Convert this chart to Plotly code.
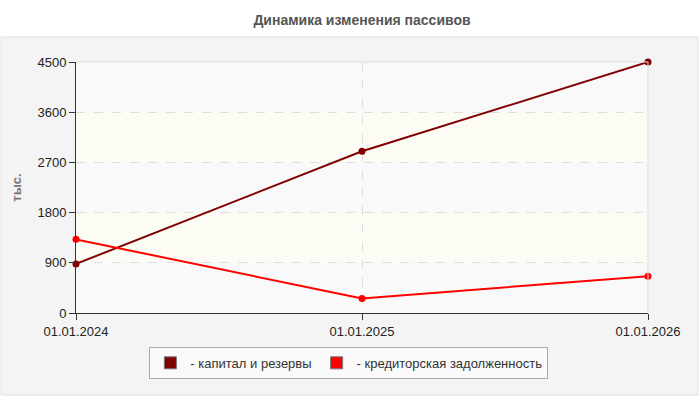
import plotly.graph_objects as go

dates = ["01.01.2024", "01.01.2025", "01.01.2026"]
capital = [880, 2900, 4500]
payables = [1320, 260, 660]
names = ["- капитал и резервы", "- кредиторская задолженность"]
colors = ["#800000", "#ff0000"]
y_ticks = [0, 900, 1800, 2700, 3600, 4500]

fig = go.Figure()
for vals, name, col in [(capital, names[0], colors[0]), (payables, names[1], colors[1])]:
    fig.add_trace(go.Scatter(
        x=dates, y=vals, mode="lines+markers", name=name, cliponaxis=False,
        line=dict(color=col, width=2), marker=dict(color=col, size=7),
        showlegend=False, hoverinfo="x+y"))
for name, col in zip(names, colors):
    fig.add_trace(go.Bar(x=[None], y=[None], name=name,
                         marker=dict(color=col, line=dict(color="#777", width=1)),
                         showlegend=True))

# background panel
fig.add_shape(type="rect", xref="paper", yref="paper",
              x0=-0.131, x1=1.0874, y0=-0.3267, y1=1.0996,
              fillcolor="#f4f4f4", line=dict(color="#e2e2e2", width=1), layer="below")
# alternating bands
for i in range(len(y_ticks) - 1):
    fig.add_shape(type="rect", xref="paper", yref="y",
                  x0=0, x1=1, y0=y_ticks[i], y1=y_ticks[i + 1],
                  fillcolor="#fcfcf4" if i % 2 else "#f9f9f9",
                  line=dict(width=0), layer="below")

fig.update_layout(
    width=700, height=400,
    margin=dict(l=76, r=52, t=62, b=87),
    paper_bgcolor="white", plot_bgcolor="rgba(0,0,0,0)",
    font=dict(family="Liberation Sans, Arial, sans-serif", size=13, color="#222"),
    title=dict(text="<b>Динамика изменения пассивов</b>", x=0.5, xref="paper",
               xanchor="center", y=0.95, yanchor="middle",
               font=dict(size=14, color="#555")),
    barmode="overlay",
    legend=dict(orientation="h", x=0.477, xanchor="center", y=-0.135, yanchor="top",
                bgcolor="#fafafa", bordercolor="#aaa", borderwidth=1,
                font=dict(size=13, color="#333"), itemwidth=30),
    xaxis=dict(type="category", range=[0, 2], showgrid=True, gridcolor="#dddddd",
               griddash="dash", gridwidth=1, showline=True, linecolor="#333",
               linewidth=1, ticks="outside", ticklen=6, tickcolor="#333",
               zeroline=False, tickfont=dict(size=13, color="#222")),
    yaxis=dict(range=[0, 4500], tickvals=y_ticks, showgrid=True, gridcolor="#dddddd",
               griddash="dash", showline=True, linecolor="#333", linewidth=1,
               ticks="outside", ticklen=6, tickcolor="#333", zeroline=False,
               title=dict(text="<b>тыс.</b>", font=dict(size=13, color="#777"), standoff=12),
               tickfont=dict(size=13, color="#222")),
)
fig.add_shape(type="line", xref="paper", yref="paper", x0=1, x1=1, y0=0, y1=1,
              line=dict(color="#dddddd", width=1))
fig.add_shape(type="line", xref="paper", yref="paper", x0=0, x1=1, y0=1, y1=1,
              line=dict(color="#dddddd", width=1))

fig.write_html("out.html")
